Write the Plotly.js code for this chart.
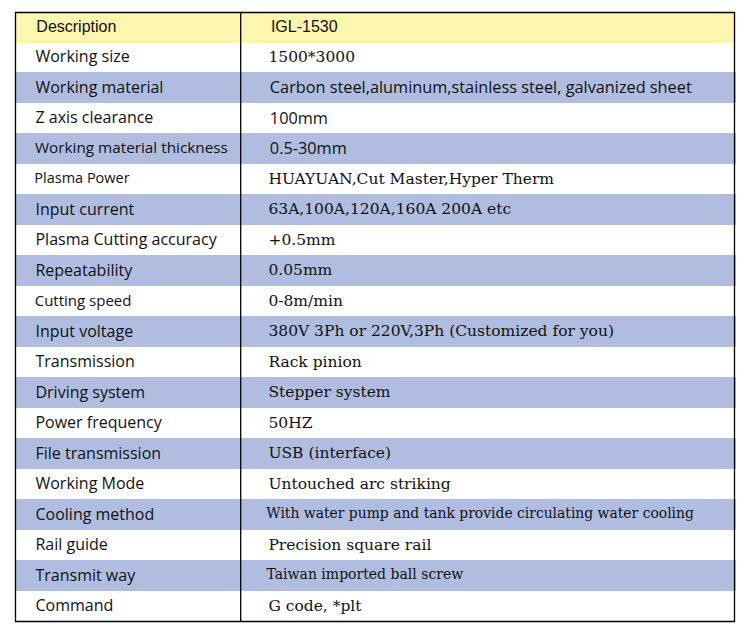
<!DOCTYPE html>
<html>
<head>
<meta charset="utf-8">
<script src="https://cdn.plot.ly/plotly-3.0.1.min.js"></script>
<style>
  body { margin: 0; background: #ffffff; }
  #spec { width: 750px; height: 644px; }
</style>
</head>
<body>
<div id="spec"></div>
<script>
// Table content
var headerLabels = ['Description', 'IGL-1530'];

var items = [
  'Working size',
  'Working material',
  'Z axis clearance',
  'Working material thickness',
  'Plasma Power',
  'Input current',
  'Plasma Cutting accuracy',
  'Repeatability',
  'Cutting speed',
  'Input voltage',
  'Transmission',
  'Driving system',
  'Power frequency',
  'File transmission',
  'Working Mode',
  'Cooling method',
  'Rail guide',
  'Transmit way',
  'Command'
];

var specs = [
  '1500*3000',
  'Carbon steel,aluminum,stainless steel, galvanized sheet',
  '100mm',
  '0.5-30mm',
  'HUAYUAN,Cut Master,Hyper Therm',
  '63A,100A,120A,160A 200A etc',
  '+0.5mm',
  '0.05mm',
  '0-8m/min',
  '380V 3Ph or 220V,3Ph (Customized for you)',
  'Rack pinion',
  'Stepper system',
  '50HZ',
  'USB (interface)',
  'Untouched arc striking',
  'With water pump and tank provide circulating water cooling',
  'Precision square rail',
  'Taiwan imported ball screw',
  'G code, *plt'
];

// which spec values are set in serif type
var specSerif = [1, 0, 0, 0, 1, 1, 1, 1, 1, 1, 1, 1, 1, 1, 1, 1, 1, 1, 1];

var SANS = 'Open Sans, sans-serif';
var SERIF = 'DejaVu Serif, serif';
var HEAD = 'Liberation Sans, Arial, sans-serif';

var itemSize = [16, 16, 16, 15.3, 14.5, 16, 16, 16, 15, 16, 16, 16, 16, 16, 16, 16, 16, 16, 16];
var specSize = [];
for (var i = 0; i < specs.length; i++) {
  specSize.push(specSerif[i] ? 15.5 : 16.3);
}
specSize[15] = 13.9;
specSize[17] = 14;

var yellow = '#fdf5b0';
var blue = '#b0bde0';
var rowFill = [];
for (var i = 0; i < items.length; i++) {
  rowFill.push(i % 2 === 0 ? '#ffffff' : blue);
}

// left padding inside cells
var padL = '\u00a0\u00a0\u00a0';
var padSans = '\u00a0\u00a0\u00a0\u00a0\u00a0';
var padSerif = '\u00a0\u00a0\u00a0\u00a0';

var trace = {
  type: 'table',
  columnwidth: [225.7, 494.3],
  domain: { x: [15 / 750, 735 / 750], y: [0.01, 1 - 12.3 / 644] },
  header: {
    values: [padL + headerLabels[0], padSans + headerLabels[1]],
    align: 'left',
    height: 30,
    fill: { color: yellow },
    line: { color: yellow, width: 1 },
    font: { family: HEAD, size: 16, color: '#111111' }
  },
  cells: {
    values: [
      items.map(function (t) { return padL + t; }),
      specs.map(function (t, i) { return (specSerif[i] ? padSerif : padSans) + t; })
    ],
    align: 'left',
    height: 30.5,
    fill: { color: [rowFill, rowFill] },
    line: { color: [rowFill, rowFill], width: 1 },
    font: {
      family: [items.map(function () { return SANS; }),
               specSerif.map(function (s) { return s ? SERIF : SANS; })],
      size: [itemSize, specSize],
      color: '#111111'
    }
  }
};

var px = function (x) { return x / 750; };
var py = function (y) { return 1 - y / 644; };

var layout = {
  width: 750,
  height: 644,
  margin: { l: 0, r: 0, t: 0, b: 0 },
  paper_bgcolor: '#ffffff',
  shapes: [
    { type: 'rect', xref: 'paper', yref: 'paper', layer: 'above',
      x0: px(15.5), x1: px(734.5), y0: py(12.5), y1: py(621.5),
      line: { color: '#000000', width: 1.3 } },
    { type: 'line', xref: 'paper', yref: 'paper', layer: 'above',
      x0: px(240.7), x1: px(240.7), y0: py(12.5), y1: py(621.5),
      line: { color: '#000000', width: 1.3 } }
  ]
};

Plotly.newPlot('spec', [trace], layout, { displayModeBar: false, staticPlot: true });
</script>
</body>
</html>
